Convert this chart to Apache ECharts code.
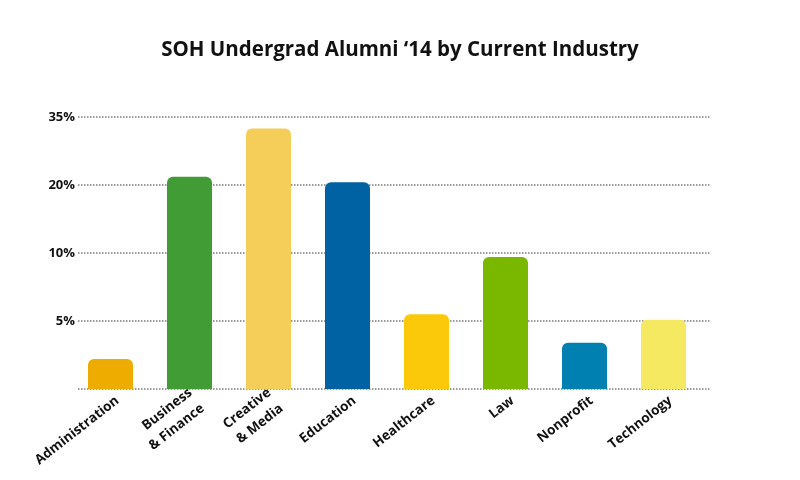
<!DOCTYPE html>
<html><head><meta charset="utf-8">
<script src="https://cdn.jsdelivr.net/npm/echarts@6/dist/echarts.min.js"></script>
<style>html,body{margin:0;padding:0;background:#fff}#c{width:800px;height:480px}</style>
</head><body><div id="c"></div>
<script>
// Categories (x axis)
const categories = ['Administration', 'Business\n& Finance', 'Creative\n& Media', 'Education', 'Healthcare', 'Law', 'Nonprofit', 'Technology'];
// Bar heights in axis-step units (each step = one labelled gridline; the original's labels are unevenly spaced)
const values = [0.44, 3.12, 3.83, 3.04, 1.10, 1.94, 0.68, 1.02];
// Bar colours
const colors = ['#EFAC00', '#419C35', '#F5CE5A', '#0062A3', '#FBC90A', '#7AB800', '#0080B1', '#F5E961'];
// Y tick labels at steps 0..4
const yTickLabels = ['', '5%', '10%', '20%', '35%'];

const font = 'Open Sans';
const chart = echarts.init(document.getElementById('c'));
chart.setOption({
  animation: false,
  backgroundColor: '#fff',
  title: {
    text: 'SOH Undergrad Alumni \u201814 by Current Industry',
    left: 'center', top: 35,
    textStyle: { fontFamily: font, fontWeight: 'bold', fontSize: 20.5, color: '#111' }
  },
  grid: [
    { left: 78, right: 90, top: 117, bottom: 91 },   // gridlines, y labels, category labels
    { left: 71, right: 97, top: 117, bottom: 91 }    // bars
  ],
  xAxis: [{
    gridIndex: 0, type: 'category', data: categories,
    axisLine: { show: false }, axisTick: { show: false },
    axisLabel: {
      rotate: 38, interval: 0, margin: 10,
      fontFamily: font, fontWeight: 'bold', fontSize: 13.5, color: '#111', lineHeight: 20
    }
  }, {
    gridIndex: 1, type: 'category', data: categories,
    axisLine: { show: false }, axisTick: { show: false }, axisLabel: { show: false }
  }],
  yAxis: [{
    gridIndex: 0, type: 'value', min: 0, max: 4, interval: 1,
    axisLine: { show: false }, axisTick: { show: false },
    axisLabel: {
      margin: 3,
      formatter: v => yTickLabels[v] || '',
      fontFamily: font, fontWeight: 'bold', fontSize: 13, color: '#111'
    },
    splitLine: { lineStyle: { type: 'dotted', color: '#7a7a7a', width: 1.5 } }
  }, {
    gridIndex: 1, type: 'value', min: 0, max: 4, interval: 1,
    axisLine: { show: false }, axisTick: { show: false },
    axisLabel: { show: false }, splitLine: { show: false }
  }],
  series: [{
    type: 'bar', xAxisIndex: 1, yAxisIndex: 1, barWidth: 45,
    data: values.map((v, i) => ({ value: v, itemStyle: { color: colors[i] } })),
    itemStyle: { borderRadius: [6, 6, 0, 0] }
  }]
});
</script></body></html>
